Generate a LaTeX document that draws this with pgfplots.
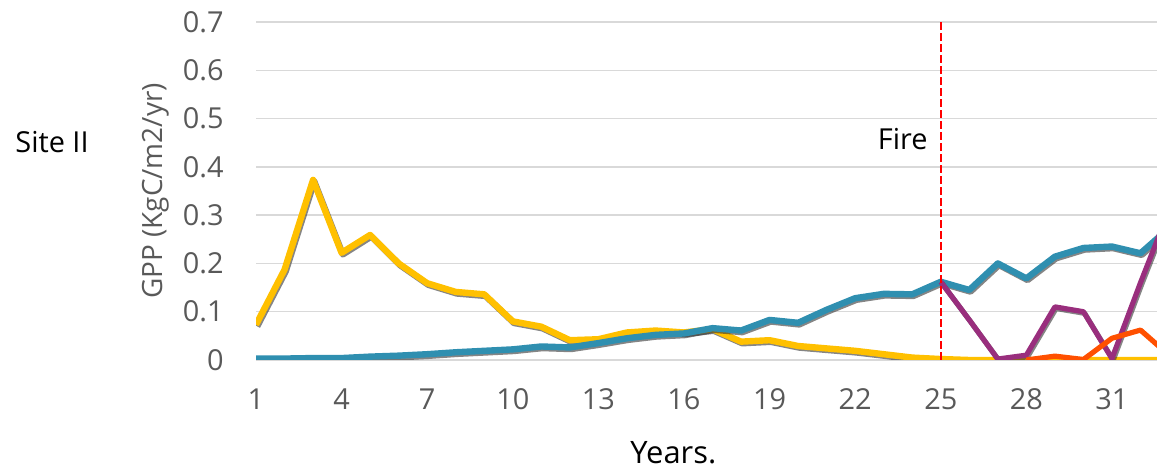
\documentclass[border=0pt]{standalone}
\usepackage{pgfplots}
\pgfplotsset{compat=1.18}
\usepackage{fontspec}
\setmainfont{Open Sans}

\definecolor{gppyellow}{HTML}{FFC000}
\definecolor{gppblue}{HTML}{2F8FB0}
\definecolor{gpppurple}{HTML}{992E7D}
\definecolor{gpporange}{HTML}{FF5000}
\definecolor{gppgreen}{HTML}{70AD47}
\definecolor{gpplightgreen}{HTML}{A9D08E}
\definecolor{gridgray}{HTML}{D9D9D9}
\definecolor{tickgray}{HTML}{595959}

\pgfplotsset{
  shadowed/.style={preaction={draw=black!80, opacity=0.6, line width=#1,
      transform canvas={xshift=0.6bp, yshift=-0.8bp}}},
}

\begin{document}
\begin{tikzpicture}
\useasboundingbox (0,0) rectangle (578.5bp,234bp);
\begin{axis}[
  at={(128bp,54bp)}, anchor=south west,
  scale only axis, width=450.8bp, height=169bp,
  xmin=1, xmax=32.6, ymin=0, ymax=0.7,
  xtick={1,4,...,31},
  ytick={0,0.1,0.2,0.3,0.4,0.5,0.6,0.7},
  yticklabels={0,0.1,0.2,0.3,0.4,0.5,0.6,0.7},
  /pgf/number format/assume math mode=true,
  axis line style={draw=none},
  major tick length=0pt,
  ymajorgrids, grid style={color=gridgray, line width=0.7bp},
  tick label style={font=\fontsize{14.5}{16}\selectfont, text=tickgray},
  yticklabel style={xshift=-12.7bp},
  xticklabel style={yshift=-11bp},
  line join=round,
]
% yellow series
\addplot[gppyellow, line width=3.2bp, shadowed=3.2bp] coordinates {
 (1,0.073) (2,0.187) (3,0.373) (4,0.222) (5,0.259) (6,0.200) (7,0.159)
 (8,0.141) (9,0.136) (10,0.080) (11,0.069) (12,0.041) (13,0.043) (14,0.057)
 (15,0.061) (16,0.057) (17,0.064) (18,0.038) (19,0.041) (20,0.029) (21,0.024)
 (22,0.019) (23,0.012) (24,0.005) (25,0.002) (26,0) (27,0) (28,0) (29,0)
 (30,0) (31,0) (32,0) (33,0)};

% ground-level series
\addplot[gpplightgreen, line width=1.4bp, transform canvas={yshift=-0.8bp}] coordinates {(1,0) (33,0)};
\addplot[gppgreen, line width=1.4bp, transform canvas={yshift=-0.8bp}] coordinates {(1,0) (15,0)};

% blue series
\addplot[gppblue, line width=3.2bp, shadowed=3.2bp] coordinates {
 (1,0.003) (2,0.003) (3,0.004) (4,0.004) (5,0.007) (6,0.009) (7,0.012)
 (8,0.016) (9,0.019) (10,0.022) (11,0.028) (12,0.026) (13,0.035) (14,0.045)
 (15,0.052) (16,0.055) (17,0.066) (18,0.061) (19,0.083) (20,0.077) (21,0.104)
 (22,0.128) (23,0.137) (24,0.136) (25,0.162) (26,0.145) (27,0.200) (28,0.169)
 (29,0.214) (30,0.232) (31,0.235) (32,0.221) (33,0.273)};

% post-fire series
\addplot[gpppurple, line width=2.6bp, shadowed=2.6bp] coordinates {
 (25,0.162) (26,0.083) (27,0.002) (28,0.010) (29,0.110) (30,0.100)
 (31,0.003) (32,0.160) (33,0.310)};
\addplot[gpporange, line width=2.6bp] coordinates {
 (28,0) (29,0.008) (30,0.001) (31,0.045) (32,0.062) (33,0.010)};

% fire year
\addplot[red, line width=1.2bp, dash pattern=on 4bp off 1.5bp] coordinates {(25,0) (25,0.7)};
\node[anchor=base east, inner sep=0pt, font=\fontsize{14.5}{16}\selectfont]
  at (axis cs:24.55,0.435) {Fire};
\end{axis}

\node[anchor=base west, inner sep=0pt, font=\fontsize{14.5}{16}\selectfont]
  at (7.5bp,157.5bp) {Site II};
\node[rotate=90, anchor=base, inner sep=0pt, text=tickgray,
  font=\fontsize{14}{16}\selectfont] at (81bp,138.5bp) {GPP (KgC/m2/yr)};
\node[anchor=base west, inner sep=0pt, font=\fontsize{15.5}{18}\selectfont]
  at (315bp,2.5bp) {Years.};
\end{tikzpicture}
\end{document}
